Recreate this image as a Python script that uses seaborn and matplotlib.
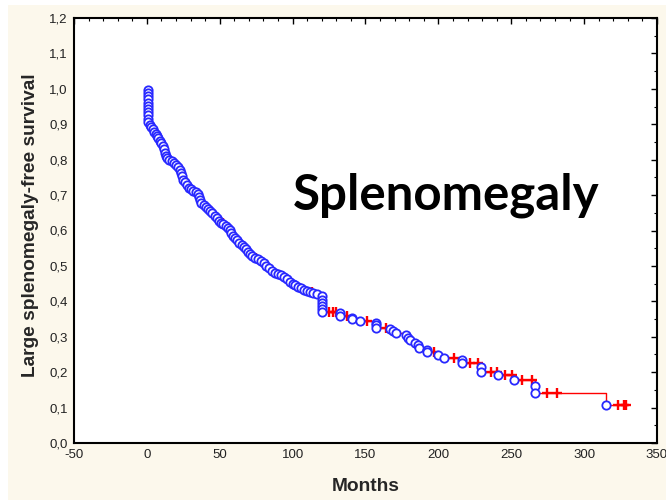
import numpy as np
import pandas as pd
import matplotlib
matplotlib.use("Agg")
import matplotlib.pyplot as plt
import matplotlib.ticker as mticker
from matplotlib.patches import Rectangle
import seaborn as sns

# Kaplan-Meier data
# months of each event (circle) and survival right after it
event_months = [1, 1, 1, 1, 1, 1, 1, 1, 1, 1, 1,
                2, 3, 4, 5, 6, 7, 8, 9, 10, 11, 12, 12.5, 13, 14, 15.5, 17, 18.5, 20,
                21.5, 22.5, 23.5, 24, 25, 26, 27.5, 29, 30.5, 32, 33.5, 35, 36, 36.5,
                37.5, 39, 40.5, 42, 43.5, 45, 46.5, 48, 49.5, 51, 52.5, 54, 55.5, 57,
                58, 59, 60.5, 62, 63.5, 65, 66.5, 68, 69.5, 71, 72.5, 74.5, 76.5, 78.5,
                80.5, 82, 84, 86, 88, 90, 92, 94, 96, 98, 100, 102, 104, 106, 108, 110,
                112, 114, 117,
                120.5, 120.5, 120.5, 120.5, 120.5, 120.5,
                132.5, 132.5, 140.5, 140.5, 146.5, 157, 157, 157, 167, 169, 171,
                177.5, 179, 180.5, 184, 186, 187, 192, 192.5, 199.5, 204,
                216.5, 216.5, 229.5, 229.5, 241, 251.7, 266.5, 266.5, 315]
event_surv = [0.997, 0.988, 0.979, 0.970, 0.961, 0.952, 0.943, 0.934, 0.925, 0.916, 0.907,
              0.898, 0.892, 0.886, 0.879, 0.872, 0.866, 0.860, 0.853, 0.846, 0.838, 0.829,
              0.820, 0.811, 0.805, 0.800, 0.795, 0.790, 0.785, 0.779, 0.771, 0.762, 0.753,
              0.744, 0.736, 0.728, 0.721, 0.716, 0.712, 0.708, 0.704, 0.696, 0.687, 0.678,
              0.672, 0.667, 0.662, 0.656, 0.649, 0.642, 0.635, 0.628, 0.622, 0.618, 0.613,
              0.608, 0.601, 0.593, 0.585, 0.578, 0.572, 0.566, 0.560, 0.554, 0.547, 0.540,
              0.533, 0.527, 0.523, 0.519, 0.514, 0.508, 0.501, 0.494, 0.487, 0.481, 0.477,
              0.473, 0.468, 0.462, 0.456, 0.450, 0.445, 0.441, 0.437, 0.433, 0.430, 0.426,
              0.423, 0.420,
              0.414, 0.405, 0.396, 0.387, 0.379, 0.371,
              0.366, 0.360, 0.354, 0.349, 0.344, 0.339, 0.333, 0.326, 0.322, 0.316, 0.310,
              0.304, 0.297, 0.290, 0.283, 0.276, 0.269, 0.264, 0.257, 0.249, 0.241,
              0.235, 0.226, 0.214, 0.201, 0.192, 0.178, 0.162, 0.142, 0.107]

# censored observations (red crosses)
censor_months = [19, 44, 52, 75, 96.5, 113, 125, 128, 130, 137.5, 151, 164, 197,
                 210.5, 222, 227.5, 236, 240, 246, 250.5, 257.5, 264, 274.8, 281.5,
                 323.5, 327.5, 329]
censor_surv = [0.790, 0.656, 0.622, 0.523, 0.462, 0.426, 0.371, 0.371, 0.371, 0.360,
               0.344, 0.326, 0.257, 0.241, 0.226, 0.226, 0.201, 0.201, 0.192, 0.192,
               0.178, 0.178, 0.142, 0.142, 0.107, 0.107, 0.107]

x_ticks = [-50, 0, 50, 100, 150, 200, 250, 300, 350]
y_ticks = [0.0, 0.1, 0.2, 0.3, 0.4, 0.5, 0.6, 0.7, 0.8, 0.9, 1.0, 1.1, 1.2]

# step line: start at 1.0, run out to the last censored case
line_df = pd.DataFrame({
    "month": [0] + event_months + [max(censor_months) + 0.5],
    "surv": [1.0] + event_surv + [event_surv[-1]],
})
event_df = pd.DataFrame({"month": event_months, "surv": event_surv})
censor_df = pd.DataFrame({"month": censor_months, "surv": censor_surv})

sns.set_style("white")
plt.rcParams["font.family"] = ["Liberation Sans", "DejaVu Sans"]

fig = plt.figure(figsize=(6.66, 5), dpi=100, facecolor="white")
fig.add_artist(Rectangle((8 / 666, 0), 1, 495 / 500, transform=fig.transFigure,
                         facecolor="#FCF8EC", edgecolor="none", zorder=-10))
ax = fig.add_axes([0.111, 0.114, 0.8755, 0.85])
ax.set_facecolor("white")

sns.lineplot(data=line_df, x="month", y="surv", estimator=None, sort=False,
             drawstyle="steps-post", color="#FF0000", linewidth=1, ax=ax, zorder=2)
sns.scatterplot(data=censor_df, x="month", y="surv", marker="+", s=60,
                color="#FF0000", linewidth=1.7, ax=ax, zorder=3)
sns.scatterplot(data=event_df, x="month", y="surv", marker="o", s=36,
                color="white", edgecolor="#2828FF", linewidth=1.3, ax=ax, zorder=4)

ax.text(205, 0.66, "Splenomegaly", ha="center", va="baseline", fontsize=35.5,
        fontweight="bold", family=["Lato", "DejaVu Sans"], color="black")

ax.set_xlim(-50, 350)
ax.set_ylim(0, 1.2)
ax.set_xticks(x_ticks)
ax.set_yticks(y_ticks)
ax.xaxis.set_minor_locator(mticker.MultipleLocator(10))
ax.yaxis.set_minor_locator(mticker.MultipleLocator(0.05))
ax.yaxis.set_major_formatter(mticker.FuncFormatter(lambda v, p: f"{v:.1f}".replace(".", ",")))
ax.xaxis.set_major_formatter(mticker.FuncFormatter(lambda v, p: f"{v:.0f}"))

ax.tick_params(which="both", direction="in", top=True, right=True, colors="black",
               labelcolor="#222222", labelsize=9.5)
ax.tick_params(which="major", length=4, width=1, pad=4.5)
ax.tick_params(which="minor", length=2.5, width=0.8)
for sp in ax.spines.values():
    sp.set_color("black")
    sp.set_linewidth(1.5)

ax.set_xlabel("Months", fontsize=13.8, fontweight="bold")
ax.set_ylabel("Large splenomegaly-free survival", fontsize=13.8, fontweight="bold")
ax.xaxis.set_label_coords(0.5, -0.083)
ax.yaxis.set_label_coords(-0.060, 0.513)

fig.savefig("out.png", dpi=100, facecolor=fig.get_facecolor())
